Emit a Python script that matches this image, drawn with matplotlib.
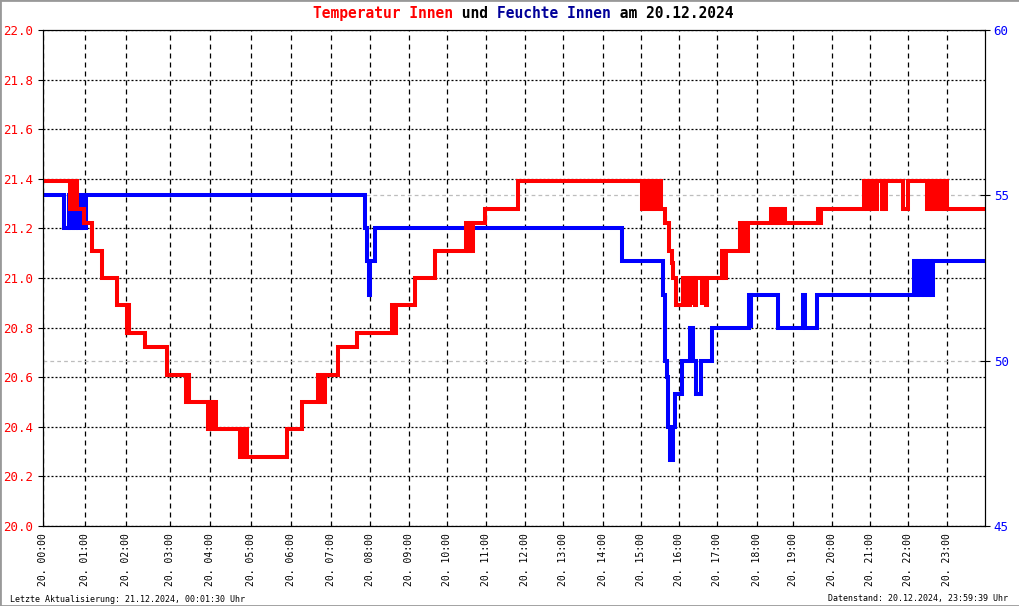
import matplotlib
matplotlib.use("Agg")
import matplotlib.pyplot as plt
import matplotlib.transforms as mtransforms
from matplotlib.patches import Rectangle
import numpy as np

MONO = "DejaVu Sans Mono"
plt.rcParams["font.family"] = [MONO]

# x axis: position along the day (the original spaces the hours slightly unevenly)
hour_pos = [0.00, 1.06, 2.12, 3.23, 4.26, 5.31, 6.31, 7.35, 8.34, 9.33, 10.30, 11.29,
            12.28, 13.26, 14.26, 15.24, 16.21, 17.18, 18.18, 19.12, 20.11, 21.08, 22.05, 23.02]
hour_labels = ["20. %02d:00" % h for h in range(24)]

temp_t = [0.00, 0.69, 0.73, 0.75, 0.79, 0.82, 0.84, 0.87, 1.05, 1.24, 1.50, 1.88, 2.14, 2.17,
          2.20, 2.60, 3.15, 3.64, 3.68, 3.72, 4.20, 4.26, 4.31, 4.36, 4.41, 5.02, 5.07, 5.12,
          5.16, 5.19, 6.22, 6.59, 7.00, 7.06, 7.11, 7.16, 7.19, 7.52, 7.99, 8.88, 8.94, 8.99,
          9.48, 9.99, 10.78, 10.83, 10.88, 10.93, 10.95, 11.26, 12.11, 15.25, 15.31, 15.35,
          15.39, 15.43, 15.48, 15.52, 15.57, 15.59, 15.69, 15.75, 15.85, 15.95, 16.02, 16.06,
          16.13, 16.30, 16.40, 16.48, 16.55, 16.57, 16.61, 16.64, 16.78, 16.80, 16.89, 16.92,
          17.29, 17.35, 17.40, 17.76, 17.81, 17.86, 17.91, 17.97, 18.55, 18.60, 18.68, 18.71,
          18.75, 18.79, 18.85, 18.90, 19.75, 19.78, 19.82, 20.92, 20.99, 21.02, 21.10, 21.12,
          21.22, 21.25, 21.38, 21.40, 21.45, 21.48, 21.92, 22.05, 22.53, 22.60, 22.68, 22.75,
          22.85, 22.90, 22.96, 22.99, 23.04, 24.00]
temp_v = [21.39, 21.28, 21.39, 21.28, 21.39, 21.28, 21.39, 21.28, 21.22, 21.11, 21.00, 20.89,
          20.78, 20.89, 20.78, 20.72, 20.61, 20.50, 20.61, 20.50, 20.39, 20.50, 20.39, 20.50,
          20.39, 20.28, 20.39, 20.28, 20.39, 20.28, 20.39, 20.50, 20.61, 20.50, 20.61, 20.50,
          20.61, 20.72, 20.78, 20.89, 20.78, 20.89, 21.00, 21.11, 21.22, 21.11, 21.22, 21.11,
          21.22, 21.28, 21.39, 21.28, 21.39, 21.28, 21.39, 21.28, 21.39, 21.28, 21.39, 21.28,
          21.39, 21.28, 21.22, 21.11, 21.06, 21.00, 20.89, 21.00, 20.89, 21.00, 20.89, 21.00,
          20.89, 21.00, 20.89, 21.00, 20.89, 21.00, 21.11, 21.00, 21.11, 21.22, 21.11, 21.22,
          21.11, 21.22, 21.28, 21.22, 21.28, 21.22, 21.28, 21.22, 21.28, 21.22, 21.28, 21.22,
          21.28, 21.39, 21.28, 21.39, 21.28, 21.39, 21.28, 21.39, 21.28, 21.39, 21.28, 21.39,
          21.28, 21.39, 21.28, 21.39, 21.28, 21.39, 21.28, 21.39, 21.28, 21.39, 21.28, 21.28]

hum_t = [0.00, 0.54, 0.66, 0.69, 0.76, 0.80, 0.85, 0.88, 0.97, 0.99, 1.10, 8.20, 8.26, 8.31,
         8.34, 8.45, 14.74, 15.80, 15.85, 15.89, 15.93, 15.98, 16.04, 16.10, 16.27, 16.48,
         16.57, 16.64, 16.76, 17.04, 17.99, 18.03, 18.05, 18.73, 19.36, 19.41, 19.73, 22.19,
         22.24, 22.29, 22.33, 22.39, 22.45, 22.47, 22.55, 22.57, 22.62, 22.67, 24.00]
hum_v = [55, 54, 55, 54, 55, 54, 55, 54, 55, 54, 55, 54, 53, 52,
         53, 54, 53, 52, 50, 49.5, 48, 47, 48, 49, 50, 51,
         50, 49, 50, 51, 52, 51, 52, 51, 52, 51, 52, 53,
         52, 53, 52, 53, 52, 53, 52, 53, 52, 53, 53]

temp_ticks = np.round(np.arange(20.0, 22.01, 0.2), 1)
hum_ticks = [45, 50, 55, 60]

fig = plt.figure(figsize=(10.2, 6.06), dpi=100)
ax = fig.add_axes([43 / 1020, 80 / 606, 942 / 1020, 496 / 606])
ax2 = ax.twinx()

ax.set_axisbelow(True)
ax.step(temp_t, temp_v, where="post", color="#ff0000", lw=2.9, zorder=3,
        solid_joinstyle="miter", solid_capstyle="butt")
ax.step(hum_t, hum_v, where="post", color="#0000ff", lw=2.9, zorder=2,
        solid_joinstyle="miter", solid_capstyle="butt", transform=ax2.transData)

# light grey helper lines at humidity ticks
trans = mtransforms.blended_transform_factory(ax.transAxes, ax2.transData)
for v in [50, 55]:
    ax.plot([0, 1], [v, v], transform=trans, color="#bdbdbd", lw=0.9,
            ls=(0, (3, 2.5)), zorder=1)

ax.set_xlim(0, 24)
ax.set_ylim(20, 22)
ax2.set_ylim(45, 60)

ax.set_xticks(hour_pos)
ax.set_xticklabels(hour_labels, rotation=90, fontsize=7)
ax.tick_params(axis="x", length=0, pad=5)
ax.set_yticks(temp_ticks)
ax.set_yticklabels(["%.1f" % v for v in temp_ticks], fontsize=9, color="#ff0000")
ax.tick_params(axis="y", direction="out", length=3.4, width=0.8, pad=4)
ax2.set_yticks(hum_ticks)
ax2.set_yticklabels([str(v) for v in hum_ticks], fontsize=9, color="#0000ff")
ax2.tick_params(axis="y", direction="inout", length=6.5, width=0.8, pad=3)

ax.grid(axis="x", color="black", lw=0.9, ls=(0, (4, 3.2)))
ax.grid(axis="y", color="black", lw=0.9, ls=(0, (1.6, 1.6)))
for a in (ax, ax2):
    for s in a.spines.values():
        s.set_linewidth(0.8)
        s.set_color("black")

# title in pieces of colour (monospace, so offsets are whole characters)
title_parts = [("Temperatur Innen", "#ff0000"), (" und ", "black"),
               ("Feuchte Innen", "#000099"), (" am 20.12.2024", "black")]
fs = 10.5
cw = 0.602 * fs
n = 0
for txt, col in title_parts:
    ax.annotate(txt, xy=(313 / 1020, 1 - 13.5 / 606), xycoords="figure fraction",
                xytext=(n * cw, 0), textcoords="offset points", color=col,
                fontsize=fs, fontweight="bold", ha="left", va="center")
    n += len(txt)

fig.text(10 / 1020, 1 - 599 / 606, "Letzte Aktualisierung: 21.12.2024, 00:01:30 Uhr",
         fontsize=6, ha="left", va="center")
fig.text(1008 / 1020, 1 - 599 / 606, "Datenstand: 20.12.2024, 23:59:39 Uhr",
         fontsize=6, ha="right", va="center")

fig.patches.append(Rectangle((0, 0), 1, 1, transform=fig.transFigure, fill=False,
                             edgecolor="#999999", lw=2))

fig.savefig("out.png", dpi=100)
